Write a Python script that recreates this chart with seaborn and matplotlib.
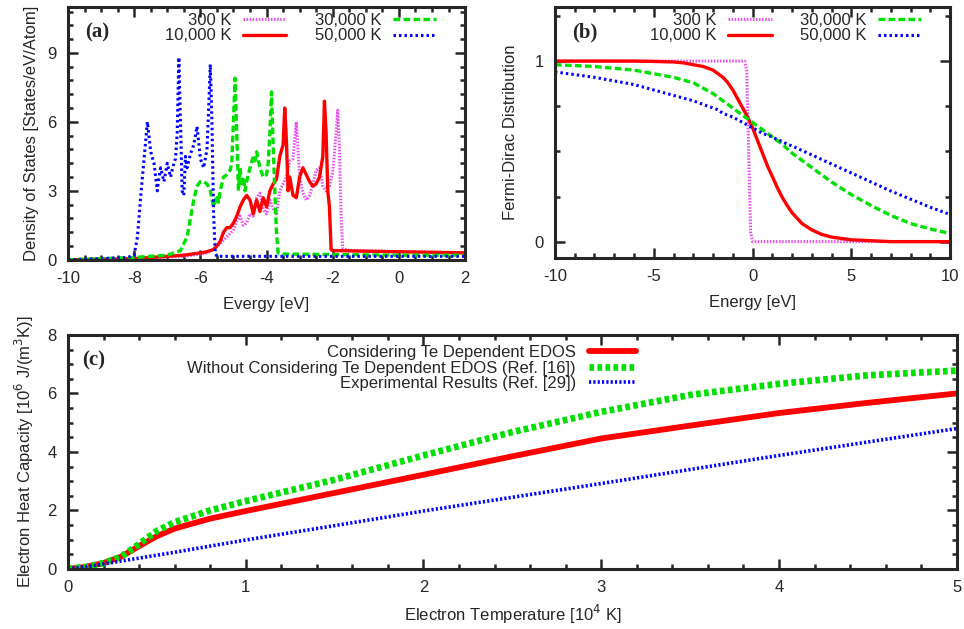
import numpy as np
import pandas as pd
import seaborn as sns
import matplotlib.pyplot as plt
from matplotlib.ticker import MultipleLocator

# ---- panel (a): density of states ----
dos_300_x = [-10, -8, -6.5, -6.0, -5.8, -5.6, -5.4, -5.2, -5.0, -4.9, -4.8, -4.7, -4.6, -4.5, -4.4,
             -4.3, -4.2, -4.1, -4.0, -3.9, -3.8, -3.7, -3.6, -3.5, -3.4, -3.3, -3.2, -3.1, -3.0,
             -2.9, -2.8, -2.7, -2.6, -2.5, -2.4, -2.3, -2.2, -2.1, -2.0, -1.9, -1.85, -1.8, -1.75,
             -1.7, -1.5, 0, 2]
dos_300_y = [0.0, 0.05, 0.15, 0.25, 0.3, 0.45, 0.7, 1.0, 1.3, 1.7, 1.9, 1.5, 1.6, 2.0, 1.9,
             2.7, 2.9, 2.2, 2.0, 2.6, 2.2, 2.0, 3.0, 3.3, 3.6, 4.3, 4.4, 6.0, 3.6,
             2.9, 2.6, 2.8, 3.3, 3.9, 4.0, 3.2, 3.0, 3.2, 3.8, 5.5, 6.5, 5.0, 2.0,
             0.5, 0.4, 0.35, 0.3]

dos_10k_x = [-10, -9, -8, -7, -6.5, -6.0, -5.8, -5.6, -5.5, -5.4, -5.3, -5.2, -5.1, -5.0, -4.9,
             -4.8, -4.7, -4.6, -4.5, -4.4, -4.3, -4.2, -4.1, -4.0, -3.9, -3.8, -3.7, -3.6, -3.5,
             -3.45, -3.4, -3.35, -3.3, -3.2, -3.1, -3.0, -2.9, -2.8, -2.7, -2.6, -2.5, -2.4, -2.3,
             -2.25, -2.2, -2.15, -2.1, -2.05, -2.0, 0, 2]
dos_10k_y = [0.0, 0.02, 0.05, 0.15, 0.2, 0.3, 0.35, 0.45, 0.6, 0.8, 1.2, 1.4, 1.4, 1.6, 1.9,
             2.3, 2.6, 2.8, 2.6, 2.0, 2.6, 2.1, 2.7, 2.3, 3.0, 3.3, 3.5, 4.5, 5.0,
             6.6, 5.2, 3.0, 3.6, 2.8, 2.7, 3.6, 4.0, 3.7, 3.4, 3.2, 3.3, 3.6, 4.5,
             6.9, 5.5, 3.0, 2.3, 0.45, 0.4, 0.35, 0.3]

dos_30k_x = [-10, -9, -8, -7, -6.6, -6.4, -6.3, -6.2, -6.1, -6.0, -5.9, -5.8, -5.7, -5.6, -5.5,
             -5.45, -5.4, -5.3, -5.2, -5.1, -5.05, -4.95, -4.9, -4.85, -4.8, -4.75, -4.7, -4.65,
             -4.6, -4.5, -4.4, -4.35, -4.3, -4.2, -4.1, -4.0, -3.95, -3.9, -3.85, -3.8, -3.75,
             -3.7, -3.65, -3.5, 0, 2]
dos_30k_y = [0.0, 0.05, 0.1, 0.2, 0.4, 1.0, 1.8, 2.6, 3.2, 3.4, 3.4, 3.3, 3.0, 2.3, 2.8,
             2.5, 3.0, 3.6, 3.7, 3.9, 4.2, 7.9, 5.5, 3.0, 4.0, 3.2, 3.6, 3.0,
             3.4, 4.0, 4.5, 4.3, 4.7, 4.0, 3.6, 3.7, 4.2, 5.5, 7.3, 5.0, 3.0,
             1.2, 0.3, 0.25, 0.2, 0.2]

dos_50k_x = [-10, -9, -8.2, -8.0, -7.9, -7.8, -7.7, -7.6, -7.5, -7.4, -7.3, -7.25, -7.2, -7.1,
             -7.0, -6.9, -6.8, -6.75, -6.7, -6.65, -6.6, -6.55, -6.5, -6.45, -6.4, -6.3, -6.2,
             -6.1, -6.0, -5.9, -5.8, -5.75, -5.7, -5.65, -5.6, -5.55, -5.5, -5.0, 0, 2]
dos_50k_y = [0.0, 0.05, 0.1, 0.2, 1.0, 2.8, 4.4, 6.0, 4.7, 4.2, 3.0, 3.6, 4.0, 3.4,
             4.2, 3.6, 4.2, 4.4, 5.5, 8.8, 6.0, 3.0, 2.8, 4.5, 4.0, 4.6, 5.0,
             5.8, 4.4, 4.0, 4.8, 6.5, 8.5, 6.0, 2.0, 0.3, 0.15, 0.15, 0.15, 0.15]

# ---- panel (b): Fermi-Dirac distribution ----
fd_x = [-10, -8, -6, -5, -4, -3.5, -3, -2.5, -2, -1.75, -1.5, -1.25, -1, -0.75, -0.5, -0.25,
        0, 0.25, 0.5, 0.75, 1, 1.25, 1.5, 1.75, 2, 2.5, 3, 3.5, 4, 5, 6, 7, 8, 9, 10]
fd_10k = [1.0, 1.0, 1.0, 0.998, 0.995, 0.99, 0.98, 0.97, 0.95, 0.93, 0.91, 0.88, 0.84, 0.79,
          0.74, 0.69, 0.63, 0.56, 0.49, 0.42, 0.36, 0.30, 0.245, 0.20, 0.16, 0.10, 0.065,
          0.04, 0.025, 0.01, 0.005, 0.0, 0.0, 0.0, 0.0]
fd_30k = [0.98, 0.97, 0.95, 0.93, 0.91, 0.895, 0.88, 0.85, 0.82, 0.80, 0.78, 0.76, 0.74, 0.72,
          0.70, 0.68, 0.66, 0.64, 0.62, 0.60, 0.58, 0.56, 0.54, 0.515, 0.49, 0.45, 0.41, 0.37,
          0.33, 0.26, 0.20, 0.145, 0.10, 0.07, 0.045]
fd_50k = [0.94, 0.91, 0.87, 0.84, 0.81, 0.795, 0.78, 0.76, 0.74, 0.73, 0.71, 0.70, 0.69, 0.675,
          0.66, 0.645, 0.63, 0.615, 0.60, 0.59, 0.58, 0.565, 0.555, 0.54, 0.53, 0.505, 0.48,
          0.455, 0.43, 0.38, 0.33, 0.28, 0.235, 0.19, 0.15]
fd_300_x = [-10, -0.4, -0.3, -0.2, -0.1, 0.0, 10]
fd_300 = [1.0, 1.0, 0.95, 0.5, 0.05, 0.0, 0.0]

# ---- panel (c): electron heat capacity ----
te = [0, 0.1, 0.2, 0.3, 0.4, 0.5, 0.6, 0.8, 1.0, 1.5, 2.0, 2.5, 3.0, 3.5, 4.0, 4.5, 5.0]
cp_te_dos = [0.0, 0.07, 0.2, 0.42, 0.78, 1.12, 1.38, 1.72, 1.98, 2.6, 3.22, 3.85, 4.46, 4.9,
             5.33, 5.68, 6.0]
cp_ref16 = [0.0, 0.07, 0.2, 0.42, 0.85, 1.3, 1.6, 2.0, 2.32, 3.05, 3.88, 4.68, 5.37, 5.95,
            6.33, 6.62, 6.78]
cp_exp = [0.0, 0.08, 0.17, 0.27, 0.37, 0.47, 0.57, 0.78, 0.99, 1.48, 1.98, 2.45, 2.92, 3.4,
          3.88, 4.34, 4.8]

temps = ["300 K", "10,000 K", "30,000 K", "50,000 K"]
colors = {"300 K": "#e850f0", "10,000 K": "#ff0000", "30,000 K": "#00e000", "50,000 K": "#0000ff"}
styles = {"300 K": (0, (0.5, 0.5)), "10,000 K": "-", "30,000 K": (0, (2, 1)), "50,000 K": (0, (0.8, 1.0))}
widths = {"300 K": 2.2, "10,000 K": 2.4, "30,000 K": 2.4, "50,000 K": 2.2}

FS = 12
sns.set_style("ticks")
plt.rcParams['font.family'] = ['Liberation Sans', 'DejaVu Sans']
plt.rcParams['font.size'] = FS
plt.rcParams['axes.unicode_minus'] = False


def gnuplot_frame(ax):
    for s in ax.spines.values():
        s.set_linewidth(2.2)
    ax.tick_params(which='both', direction='in', top=True, right=True, width=1.8, labelsize=FS)
    ax.tick_params(which='major', length=7, pad=8)
    ax.tick_params(which='minor', length=3.5)


fig = plt.figure(figsize=(9.64, 6.29), dpi=100)
ax_a = fig.add_axes([0.0705, 0.587, 0.412, 0.402])
ax_b = fig.add_axes([0.5757, 0.590, 0.410, 0.399])
ax_c = fig.add_axes([0.0705, 0.0955, 0.922, 0.372])

# (a)
dos = {"300 K": (dos_300_x, dos_300_y), "10,000 K": (dos_10k_x, dos_10k_y),
       "30,000 K": (dos_30k_x, dos_30k_y), "50,000 K": (dos_50k_x, dos_50k_y)}
for t in temps:
    x, y = dos[t]
    sns.lineplot(x=x, y=y, ax=ax_a, color=colors[t], linestyle=styles[t], linewidth=widths[t],
                 label=t, estimator=None, sort=False)
ax_a.set_xlim(-10, 2)
ax_a.set_ylim(0, 11)
ax_a.xaxis.set_major_locator(MultipleLocator(2))
ax_a.xaxis.set_minor_locator(MultipleLocator(0.5))
ax_a.yaxis.set_major_locator(MultipleLocator(3))
ax_a.yaxis.set_minor_locator(MultipleLocator(0.6))
ax_a.set_xlabel("Evergy [eV]", labelpad=8)
ax_a.set_ylabel("Density of States [States/eV/Atom]", labelpad=6)
ax_a.text(0.043, 0.9, "(a)", transform=ax_a.transAxes, family='Liberation Serif',
          fontweight='bold', fontsize=15, va='center')

# (b)
fd = {"300 K": (fd_300_x, fd_300), "10,000 K": (fd_x, fd_10k),
      "30,000 K": (fd_x, fd_30k), "50,000 K": (fd_x, fd_50k)}
for t in temps:
    x, y = fd[t]
    sns.lineplot(x=x, y=y, ax=ax_b, color=colors[t], linestyle=styles[t], linewidth=widths[t],
                 label=t, estimator=None, sort=False)
ax_b.set_xlim(-10, 10)
ax_b.set_ylim(-0.09, 1.3)
ax_b.xaxis.set_major_locator(MultipleLocator(5))
ax_b.xaxis.set_minor_locator(MultipleLocator(1))
ax_b.yaxis.set_major_locator(MultipleLocator(1))
ax_b.yaxis.set_minor_locator(MultipleLocator(0.25))
ax_b.set_xlabel("Energy [eV]", labelpad=8)
ax_b.set_ylabel("Fermi-Dirac Distribution", labelpad=12)
ax_b.text(0.043, 0.9, "(b)", transform=ax_b.transAxes, family='Liberation Serif',
          fontweight='bold', fontsize=15, va='center')

for ax in (ax_a, ax_b):
    gnuplot_frame(ax)
    ax.legend(loc='upper right', bbox_to_anchor=(0.965, 1.035), ncol=2, frameon=False,
              markerfirst=False, handlelength=2.6, columnspacing=1.7, labelspacing=0.02,
              handletextpad=0.7, fontsize=FS)

# (c)
df_c = pd.DataFrame({"te": te, "a": cp_te_dos, "b": cp_ref16, "c": cp_exp})
sns.lineplot(data=df_c, x="te", y="a", ax=ax_c, color="#ff0000", linewidth=4.2,
             label="Considering Te Dependent EDOS")
sns.lineplot(data=df_c, x="te", y="b", ax=ax_c, color="#00e000", linewidth=4.8,
             linestyle=(0, (0.7, 0.5)), label="Without Considering Te Dependent EDOS (Ref. [16])")
sns.lineplot(data=df_c, x="te", y="c", ax=ax_c, color="#0000ff", linewidth=2.6,
             linestyle=(0, (0.6, 0.6)), label="Experimental Results (Ref. [29])")
ax_c.set_xlim(0, 5)
ax_c.set_ylim(0, 8)
ax_c.xaxis.set_major_locator(MultipleLocator(1))
ax_c.xaxis.set_minor_locator(MultipleLocator(0.2))
ax_c.yaxis.set_major_locator(MultipleLocator(2))
ax_c.yaxis.set_minor_locator(MultipleLocator(0.5))
ax_c.set_xlabel("Electron Temperature [10$^4$ K]", labelpad=6)
ax_c.set_ylabel("Electron Heat Capacity [10$^6$ J/(m$^3$K)]", labelpad=8)
ax_c.text(0.016, 0.89, "(c)", transform=ax_c.transAxes, family='Liberation Serif',
          fontweight='bold', fontsize=15, va='center')
gnuplot_frame(ax_c)
ax_c.legend(loc='upper right', bbox_to_anchor=(0.656, 1.02), frameon=False, markerfirst=False,
            handlelength=2.8, labelspacing=0.02, handletextpad=0.8, fontsize=FS)

fig.savefig("out.png", dpi=100)
